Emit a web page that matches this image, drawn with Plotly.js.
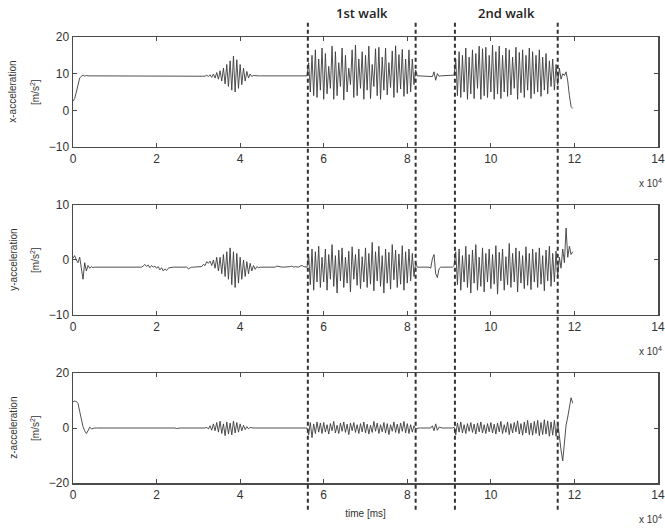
<!DOCTYPE html>
<html><head><meta charset="utf-8">
<script src="https://cdn.plot.ly/plotly-3.0.1.min.js"></script>
<style>html,body{margin:0;padding:0;background:#fff}</style>
</head><body>
<div id="chart" style="width:665px;height:529px"></div>
<script>
// sampling interval of the recording, in units of 10^4 ms
const sampleStep = 0.04;
const xTicks = [0, 2, 4, 6, 8, 10, 12, 14];
const walkBounds = [5.62, 8.2, 9.14, 11.6];
const walkLabels = ["1st walk", "2nd walk"];
const panelNames = ["x-acceleration", "y-acceleration", "z-acceleration"];
const panelUnit = "[m/s<sup>2</sup>]";

const xAcc = [
 2.5,3.2,5,7,8.8, 9.3,9.6,9.3,9.5,9.4, 9.4,9.4,9.4,9.4,9.4, 9.4,9.4,9.4,9.4,9.4, 9.4,9.4,9.4,9.4,9.4,
 9.4,9.4,9.4,9.4,9.4, 9.4,9.4,9.4,9.4,9.4, 9.4,9.4,9.4,9.4,9.4, 9.4,9.4,9.4,9.4,9.4, 9.4,9.4,9.4,9.4,9.4,
 9.4,9.4,9.4,9.4,9.4, 9.4,9.4,9.4,9.4,9.4, 9.5,9.4,9.3,9.4,9.4, 9.4,9.4,9.4,9.4,9.4, 9.4,9.4,9.4,9.4,9.4,
 9.4,9.4,9.4,9.5,9.3, 9.6,9.2,9.7,9.0,9.9, 8.8,10.3,8.5,10.8,8.0, 11.5,7.2,12.5,6.5,13.5, 5.5,14.8,5.0,13.8,6.0,
 12.5,7.0,11.5,8.0,10.6, 8.8,9.9,9.2,9.5,9.4, 9.4,9.4,9.4,9.4,9.4, 9.4,9.4,9.4,9.4,9.4, 9.4,9.4,9.4,9.4,9.4,
 9.4,9.4,9.4,9.4,9.4, 9.4,9.4,9.4,9.4,9.4, 9.4,9.4,9.4,9.4,9.4, 9.4,13,5,15,4, 16.5,3.5,14,5.5,17,
 3,15.5,4.5,12,6, 17.5,3,16,4,13, 6.5,17,2.8,15,5, 11.5,7,16.5,3.5,17.8, 4,14,6,16,3,
 15,5.5,17.5,3.2,12.5, 6.5,16.8,4,17.2,3, 14.5,5.5,17,4.2,13, 6.2,16.2,3.5,17.6,4.8, 15.2,5.8,16.6,3.8,14,
 4.5,16.5,5,14,7, 11,9.4,9.4,9.4,9.4, 9.4,9.4,9.4,9.4,9.4, 9.2,10.5,8.2,10,9.3, 9.4,9.4,9.4,9.4,9.4,
 9.4,9.4,9.4,9.6,14, 4,16,3.5,15,5, 17,3,14.5,4.5,16.5, 3.2,15.5,6,17.5,3, 16.8,4,17.2,3.5,15,
 5,17.8,3,16,4.5, 17.5,3.2,15,5,17, 3.8,16.5,4.2,14.5,6, 17.2,3,15.8,4.8,16.5, 3.5,15,5.5,17,3.2,
 16,4.5,15,5,16.5, 3.8,14.5,5.5,15.5,4.5, 13.5,6.5,14,5.5,12.5, 7,11.5,8.5,10,9.5, 10.5,8,4,1,0.5
];

const yAcc = [
 0.3,0.8,0,-0.5,0.5, -1.5,-3.5,-0.5,-2,-1, -1.5,-1.2,-1.4,-1.3,-1.3, -1.3,-1.3,-1.3,-1.3,-1.3, -1.3,-1.3,-1.3,-1.3,-1.3,
 -1.3,-1.3,-1.3,-1.3,-1.3, -1.3,-1.3,-1.3,-1.3,-1.3, -1.3,-1.3,-1.3,-1.3,-1.3, -1.3,-1.3,-1.1,-0.8,-1.2, -0.9,-1.4,-1.0,-1.3,-1.1,
 -1.5,-1.2,-1.8,-1.4,-2.0, -1.6,-1.9,-1.5,-1.4,-1.3, -1.3,-1.3,-1.3,-1.3,-1.3, -1.3,-1.3,-1.3,-1.3,-1.6, -1.4,-1.3,-1.3,-1.3,-1.3,
 -1.3,-1.3,-1.2,-0.8,-1.0, -0.3,-0.6,-0.2,-1.0,0, -1.5,0.5,-2,0.5,-2.5, 1.0,-3,1.5,-3.5,2.2, -4.5,1.5,-5,1.2,-4.2,
 0.5,-3.5,0,-3,-0.3, -2.5,-0.6,-2,-1,-1.7, -1.2,-1.4,-1.3,-1.3,-1.3, -1.3,-1.3,-1.3,-1.3,-1.3, -1.3,-1.3,-1.1,-1.2,-1.3,
 -1.3,-1.3,-1.3,-1.3,-1.3, -1.2,-1.1,-1.3,-1.2,-1.3, -1.3,-1.1,-1.0,-1.2,-1.3, -1.3,1,-4.5,2,-5.5, 1.5,-4,2.5,-5,0.5,
 -4,2,-5.5,1,-3.5, 2.8,-4.8,0.8,-6,1.8, -3.8,2.2,-5,0.5,-4.2, 1.6,-5.8,2.4,-3.5,1, -4.6,2,-5.2,0.6,-4,
 2.2,-5,1.2,-4.4,3.2, -5.6,1.5,-3.8,2.5,-4.8, 0.8,-6,2,-4.2,1.4, -5.3,2.8,-3.6,1.8,-5, 1.1,-4.4,2.6,-5.5,1.5,
 -4.2,2,-3.8,1.2,-3, -0.5,-1.3,-1.3,-1.3,-1.3, -1.3,-1.3,-1.3,-1.3,-1.5, 0.2,1,-2.5,-3.2,-1.6, -1.3,-1.3,-1.3,-1.3,-1.3,
 -1.3,-1.3,-1.3,-1.0,1.5, -4.5,2,-5.5,0.8,-4, 2.5,-5,1,-6,1.8, -4.2,2.8,-5.5,0.5,-4.8, 2.2,-5.8,1.2,-4,2,
 -5.2,1,-4.4,2.6,-6.2, 1.4,-3.8,2,-5.5,0.6, -4.5,3,-5,1.2,-4, 2.2,-5.8,1.6,-4.2,0.8, -5.2,2.4,-4.6,1.2,-5.4,
 2,-4,1.4,-5,2.2, -4.4,0.8,-5.6,1.8,-3.8, 2.5,-4.8,1.2,-4,1.6, -3,0.5,-1.5,2,-0.5, 5.8,0.5,2.5,1,1.5
];

const zAcc = [
 9.5,9.8,9.6,9,6, 3,0.5,-1,-2,-1, 0.3,-0.3,0,0,0, 0,0,0,0,0, 0,0,0,0,0,
 0,0,0,0,0, 0,0,0,0,0, 0,0,0,0,0, 0,0,0,0,0, 0,0,0,0,0,
 0,0,0,0,0, 0,0,0,0,0, 0.2,0,-0.2,0,0, 0,0,0,0.2,0, 0,0,0,0,0,
 0,0,0,0,0, 0.3,-0.4,0.8,-0.8,1.5, -1,2,-1.5,2.5,-2, 1.5,-2.8,2.2,-2.2,1.8, -2.5,2.5,-1.8,2,-1.5,
 1.5,-1,1,-0.6,0.5, -0.3,0.2,0,0,0, 0,0,0,0,0, 0,0,0,0,0, 0,0,0,0,0,
 0,0,0,0,0, 0,0,0,0,0, 0,0,0,0,0, 0,-2.5,2,-3.5,1.5, -2,2.2,-1.5,1.8,-2,
 2,-1.5,1.2,-2.2,1.6, -1,2.4,-1.8,1,-2, 1.8,-1.2,2.2,-1.6,1.4, -2.4,1.8,-1,2,-1.6, 1.2,-2,1.6,-1.4,2.2,
 -1.8,1.4,-2.2,1,-1.6, 2.4,-1.2,1.8,-2,1.2, -1.4,2,-1.8,1.6,-2.4, 1.2,-1.2,2.2,-1.6,1.4, -2,1.8,-1.2,2.4,-1.8,
 1.6,-2,1.2,-1.5,0.8, -0.3,0,0,0,0, 0,0,0,0,0, 0.8,-1,1.5,-0.8,0.3, 0,0,0,0,0,
 0,0,0,0.3,-2.5, 1.8,-1.5,2.2,-1.8,1.2, -2,1.6,-1.2,2,-1.6, 1.4,-2.2,1.8,-1.4,2.2, -1.8,1.2,-2,1.6,-1.4,
 2,-1.8,1.4,-2.2,1.8, -1.4,2.4,-2,1.2,-1.6, 2.2,-2.4,1.6,-1.8,2, -1.4,2.6,-2.2,1.6,-2.6, 2.2,-1.8,2.8,-2.4,1.8,
 -2.6,2.4,-2,2.8,-2.8, 2,-2.4,3,-2.2,2.6, -3,2.2,-2.6,2.8,-3, 2,-4,-8,-12,-6, 1,4,7,11,9
];

const yRanges = [[-10, 20], [-10, 10], [-20, 20]];
const yTicks = [[-10, 0, 10, 20], [-10, 0, 10], [-20, 0, 20]];

const time = xAcc.map((_, i) => +(i * sampleStep).toFixed(2));
const series = [xAcc, yAcc, zAcc];

const lineColor = '#3c3c3c';
const axisColor = '#4a4a4a';
const fam = 'Liberation Sans, Arial, sans-serif';
const tickFont = {family: fam, size: 12, color: '#333'};

const traces = series.map((s, k) => ({
  x: time, y: s, type: 'scatter', mode: 'lines',
  xaxis: k === 0 ? 'x' : 'x' + (k + 1), yaxis: k === 0 ? 'y' : 'y' + (k + 1),
  line: {color: lineColor, width: 0.9}, hoverinfo: 'skip', showlegend: false
}));

const domains = [[0.7534, 1], [0.3767, 0.6233], [0, 0.2466]];
const layout = {
  width: 665, height: 529,
  margin: {l: 73, r: 7, t: 37, b: 46},
  paper_bgcolor: '#fff', plot_bgcolor: '#fff',
  showlegend: false,
  shapes: walkBounds.map(b => ({
    type: 'line', xref: 'x', yref: 'paper', x0: b, x1: b, y0: -0.06, y1: 1.034,
    line: {color: '#333', width: 2, dash: '4px,3px'}
  })),
  annotations: []
};

for (let k = 0; k < 3; k++) {
  const xs = k === 0 ? 'xaxis' : 'xaxis' + (k + 1);
  const ys = k === 0 ? 'yaxis' : 'yaxis' + (k + 1);
  layout[xs] = {
    domain: [0, 1], anchor: k === 0 ? 'y' : 'y' + (k + 1), range: [0, 14],
    tickvals: xTicks, ticktext: xTicks.map(String), ticks: 'inside', ticklen: 4, tickcolor: axisColor,
    showline: true, linecolor: axisColor, linewidth: 1.5, mirror: 'allticks',
    showgrid: false, zeroline: false, tickfont: tickFont
  };
  if (k === 2) layout[xs].title = {text: 'time [ms]', font: {family: fam, size: 10, color: '#333'}, standoff: 9};
  layout[ys] = {
    domain: domains[k], anchor: k === 0 ? 'x' : 'x' + (k + 1), range: yRanges[k],
    tickvals: yTicks[k], ticks: 'inside', ticklen: 4, tickcolor: axisColor,
    showline: true, linecolor: axisColor, linewidth: 1.5, mirror: 'allticks',
    showgrid: false, zeroline: false, tickfont: tickFont
  };
  const midY = (domains[k][0] + domains[k][1]) / 2;
  layout.annotations.push({
    xref: 'paper', yref: 'paper', x: -0.103, y: midY, textangle: -90, showarrow: false,
    xanchor: 'center', yanchor: 'middle', text: panelNames[k], font: {family: fam, size: 10, color: '#333'}
  });
  layout.annotations.push({
    xref: 'paper', yref: 'paper', x: -0.065, y: midY, textangle: -90, showarrow: false,
    xanchor: 'center', yanchor: 'middle', text: panelUnit, font: {family: fam, size: 10, color: '#333'}
  });
}

const expY = [0.6726, 0.296, -0.0807];
expY.forEach(yv => layout.annotations.push({
  xref: 'paper', yref: 'paper', x: 1.01, y: yv, xanchor: 'right', yanchor: 'middle', showarrow: false,
  text: 'x 10<sup>4</sup>', font: {family: fam, size: 10, color: '#333'}
}));
walkLabels.forEach((lab, i) => layout.annotations.push({
  xref: 'x', yref: 'paper', x: (walkBounds[2 * i] + walkBounds[2 * i + 1]) / 2, y: 1.054,
  xanchor: 'center', yanchor: 'middle', showarrow: false,
  text: lab, font: {family: 'Open Sans, sans-serif', size: 13, color: '#222', weight: 600}
}));

Plotly.newPlot('chart', traces, layout, {staticPlot: true, displayModeBar: false});
</script>
</body></html>
